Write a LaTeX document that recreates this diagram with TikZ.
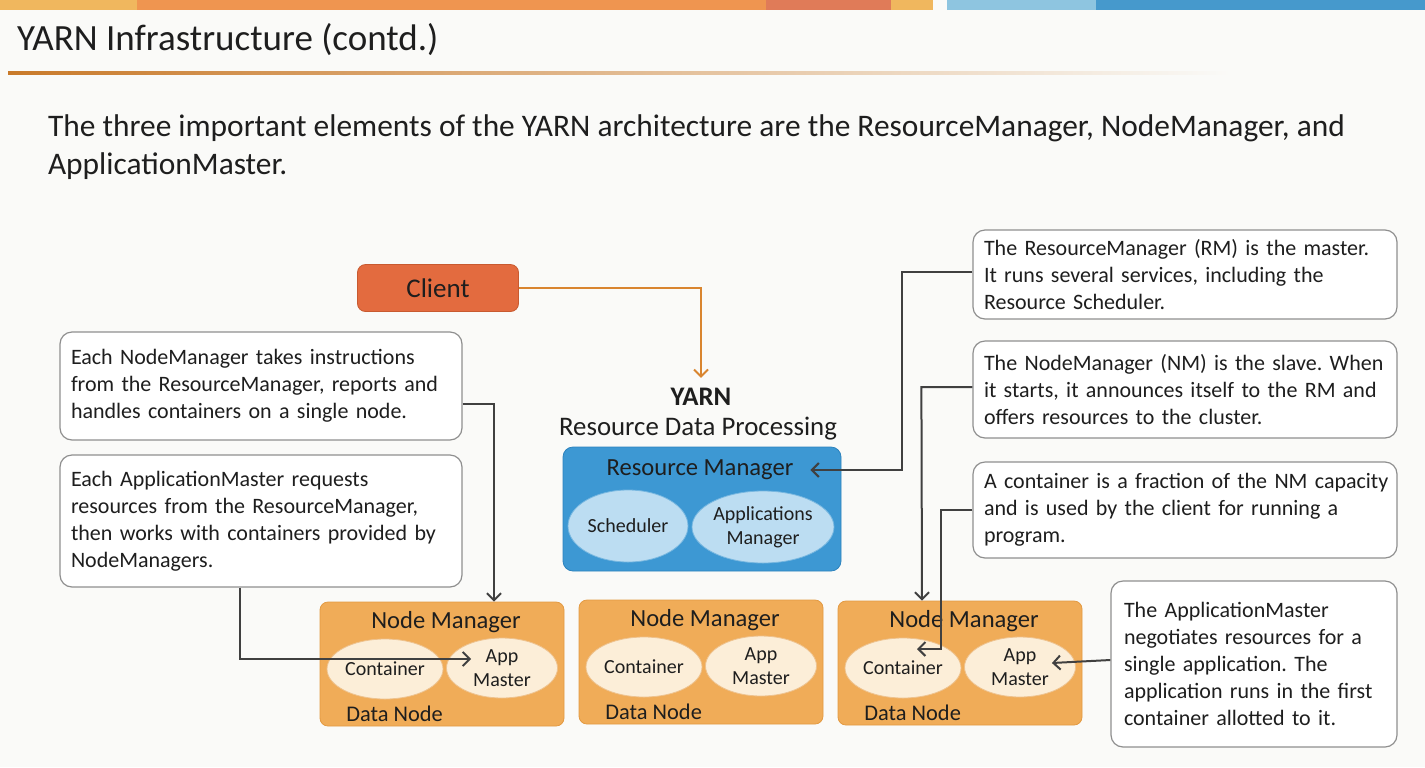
\documentclass[tikz,border=0pt]{standalone}
\usepackage{fontspec}
\setmainfont{Carlito}
\frenchspacing
\usetikzlibrary{arrows.meta,shapes.geometric}
\definecolor{bgpaper}{HTML}{FAFAF8}
\definecolor{barA}{HTML}{F0B75E}
\definecolor{barB}{HTML}{EF9550}
\definecolor{barC}{HTML}{E07B58}
\definecolor{barD}{HTML}{8EC5E0}
\definecolor{barE}{HTML}{4699CC}
\definecolor{ruleorange}{HTML}{C97A2A}
\definecolor{clientfill}{HTML}{E36B3F}
\definecolor{clientline}{HTML}{C85A30}
\definecolor{clientarrow}{HTML}{D9852F}
\definecolor{rmfill}{HTML}{3D98D3}
\definecolor{rmline}{HTML}{2C82BD}
\definecolor{rmoval}{HTML}{BCDDF2}
\definecolor{nmfill}{HTML}{F0AC58}
\definecolor{nmline}{HTML}{E39A42}
\definecolor{nmoval}{HTML}{FCEED8}
\definecolor{calloutgray}{HTML}{8F8F8F}
\definecolor{linkgray}{HTML}{404040}
\definecolor{inkblack}{HTML}{1E1E1E}
\begin{document}
\begin{tikzpicture}[x=0.5pt,y=-0.5pt,
    callout/.style={draw=calloutgray,fill=white,rounded corners=6pt,line width=0.6pt,
      align=left,inner xsep=5.5pt,text=inkblack,font=\fontsize{11}{13.5}\selectfont},
    nmbox/.style={draw=nmline,fill=nmfill,rounded corners=4pt,minimum width=122pt,minimum height=62pt},
    oval/.style={shape=ellipse,inner sep=0pt,minimum height=30pt,align=center,text=inkblack,
      font=\fontsize{10}{12}\selectfont},
    boxtitle/.style={text=inkblack,font=\fontsize{12.3}{14}\selectfont},
    link/.style={draw=linkgray,line width=1pt,-{Straight Barb[length=3.5pt,width=7pt]}}]
  % page and header
  \fill[bgpaper] (0,0) rectangle (1425,767);
  \fill[barA] (0,0) rectangle (137,10);
  \fill[barB] (137,0) rectangle (766,10);
  \fill[barC] (766,0) rectangle (891,10);
  \fill[barA] (891,0) rectangle (933,10);
  \fill[barD] (947,0) rectangle (1096,10);
  \fill[barE] (1096,0) rectangle (1425,10);
  \node[anchor=west,text=inkblack,font=\fontsize{18.5}{22}\selectfont] (title) at (10,40) {YARN Infrastructure (contd.)};
  \shade[left color=ruleorange,right color=bgpaper] (8,71) rectangle (1230,74);
  \node[anchor=west,align=left,text=inkblack,font=\fontsize{15.7}{19}\selectfont] (intro) at (41,147)
    {The three important elements of the YARN architecture are the ResourceManager, NodeManager, and\\
     ApplicationMaster.};

  % client and resource manager
  \node[draw=clientline,fill=clientfill,rounded corners=4pt,minimum width=80.5pt,minimum height=23.5pt,
    text=inkblack,font=\fontsize{13.5}{15}\selectfont] (client) at (438,288) {Client};
  \node[inner sep=0pt,text=inkblack,font=\fontsize{13.4}{15}\selectfont\bfseries] (yarn) at (701,397) {YARN};
  \node[inner sep=0pt,text=inkblack,font=\fontsize{13.4}{15}\selectfont] (rdp) at (698,429) {Resource Data Processing};
  \node[draw=rmline,fill=rmfill,rounded corners=5pt,minimum width=139pt,minimum height=62pt] (rm) at (702,509) {};
  \node[boxtitle] (rmlabel) at (700,470) {Resource Manager};
  \node[oval,draw=rmfill!70!white,fill=rmoval,minimum width=60pt,minimum height=36pt] (sched) at (628,526) {Scheduler};
  \node[oval,draw=rmfill!70!white,fill=rmoval,minimum width=71pt,minimum height=36pt] (appsmgr) at (763,527) {Applications\\Manager};

  % node managers
  \foreach \i/\cx/\cy in {1/442/664,2/701/662,3/960/663} {
    \node[nmbox] (nm\i) at (\cx,\cy) {};
    \node[boxtitle] (nmlabel\i) at (\cx+4,\cy-42) {Node Manager};
    \node[oval,draw=nmline!60!white,fill=nmoval,minimum width=58pt] (cont\i) at (\cx-57,\cy+5) {Container};
    \node[oval,draw=nmline!60!white,fill=nmoval,minimum width=55.5pt] (am\i) at (\cx+60,\cy+4) {App\\Master};
    \node[anchor=west,inner sep=0pt,text=inkblack,font=\fontsize{11.2}{12}\selectfont] (dn\i) at (\cx-96,\cy+50) {Data Node};
  }

  % callouts
  \node[callout,text width=190pt,minimum height=54pt] (l1) at (261,386)
    {Each NodeManager takes instructions\\from the ResourceManager, reports and\\handles containers on a single node.};
  \node[callout,text width=190pt,minimum height=66pt] (l2) at (261,521)
    {Each ApplicationMaster requests\\resources from the ResourceManager,\\then works with containers provided by\\NodeManagers.};
  \node[callout,text width=201pt,minimum height=44.5pt] (r1) at (1185,274.5)
    {The ResourceManager (RM) is the master.\\It runs several services, including the\\Resource Scheduler.};
  \node[callout,text width=201pt,minimum height=48.5pt] (r2) at (1185,389.5)
    {The NodeManager (NM) is the slave. When\\it starts, it announces itself to the RM and\\offers resources to the cluster.};
  \node[callout,text width=201pt,minimum height=48pt] (r3) at (1185,510)
    {\mbox{A container is a fraction of the NM capacity}\\and is used by the client for running a\\program.};
  \node[callout,inner xsep=6.5pt,text width=130pt,minimum height=83pt] (r4) at (1254,664)
    {The ApplicationMaster\\negotiates resources for a\\single application. The\\application runs in the first\\container allotted to it.};

  % connectors
  \draw[clientarrow,line width=1pt,-{Straight Barb[length=3.5pt,width=7pt]}]
    (client.east) -| ([yshift=5pt]yarn.north);
  \draw[link] ([yshift=-9pt]l1.east) -| ([xshift=26pt]nm1.north);
  \draw[link] ([xshift=-10.5pt]l2.south) |- ([xshift=12.5pt,yshift=4.5pt]am1.west);
  \draw[link] ([yshift=1.25pt]r1.west) -- ++(-70,0) |- ([xshift=5pt]rmlabel.east);
  \draw[link] ([yshift=1.25pt]r2.west) -- ++(-51,0) -- ([xshift=-19pt]nm3.north);
  \draw[link] (r3.west) -- ++(-31,0) |- ([xshift=7pt,yshift=9.5pt]cont3.center);
  \draw[link] ([yshift=2pt]r4.west) -- ([xshift=-12pt,yshift=2pt]am3.east);
\end{tikzpicture}
\end{document}
